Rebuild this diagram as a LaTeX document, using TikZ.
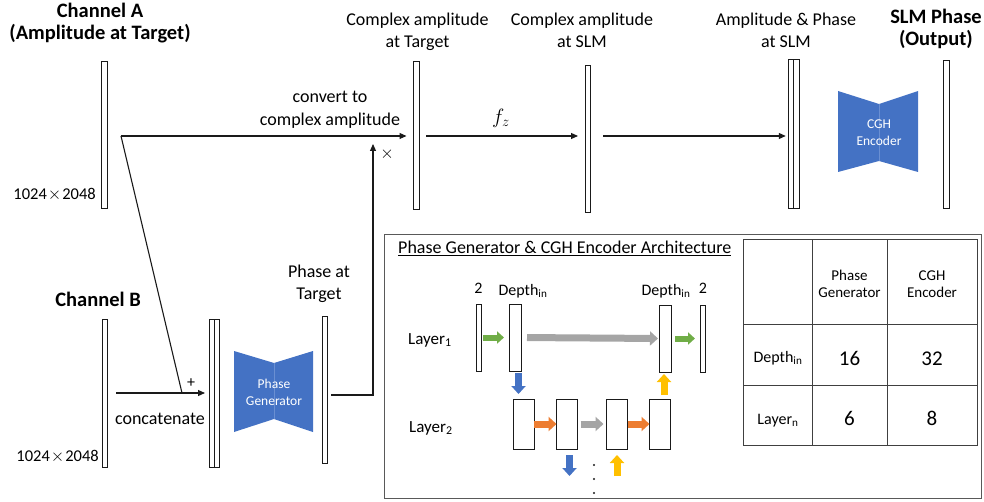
\documentclass[tikz,border=0pt]{standalone}
\usepackage{fontspec}
\setmainfont{Carlito}
\usetikzlibrary{arrows.meta}

\definecolor{offblue}{HTML}{4472C4}
\definecolor{seamblue}{HTML}{6A8FD2}
\definecolor{offgreen}{HTML}{70AD47}
\definecolor{offgray}{HTML}{A5A5A5}
\definecolor{offorange}{HTML}{ED7D31}
\definecolor{offgold}{HTML}{FFC000}
\definecolor{framegray}{HTML}{595959}
\definecolor{rulegray}{HTML}{404040}
\definecolor{ink}{HTML}{1A1A1A}

\begin{document}
\begin{tikzpicture}[x=1pt,y=-1pt,
  bar/.style={draw=ink, line width=1pt, fill=white, inner sep=0pt, outer sep=0pt},
  arr/.style={draw=ink, line width=1.1pt, -{Triangle[length=7pt,width=6pt]}},
  plain/.style={draw=ink, line width=1.1pt},
  lbl/.style={font=\fontsize{18}{22}\selectfont, inner sep=0pt, anchor=base},
  ttl/.style={font=\bfseries\fontsize{20.5}{24}\selectfont, inner sep=0pt, anchor=base},
  dim/.style={font=\fontsize{16.5}{18}\selectfont, inner sep=0pt, anchor=base east},
  sym/.style={font=\fontsize{16}{18}\selectfont, inner sep=0pt},
  wlbl/.style={font=\fontsize{13.5}{16}\selectfont, text=white, inner sep=0pt, anchor=base},
  small/.style={font=\fontsize{16}{18}\selectfont, inner sep=0pt, anchor=base},
  cell/.style={font=\fontsize{15}{18}\selectfont, inner sep=0pt, anchor=base},
  num/.style={font=\fontsize{21}{24}\selectfont, inner sep=0pt, anchor=base},
  blk/.style={line width=7pt, draw=#1, -{Triangle[length=8pt,width=14pt]}},
  blkthin/.style={line width=6pt, draw=#1, -{Triangle[length=7pt,width=12pt]}},
]
\useasboundingbox (0,0) rectangle (984,502);

% ---------- feature maps (upper row) ----------
\node[bar, minimum width=6pt, minimum height=147pt] (chA) at (104.5,135.5) {};
\node[bar, minimum width=6pt, minimum height=148pt] (tgt) at (416.5,136) {};
\node[bar, minimum width=5pt, minimum height=147pt] (slm) at (588,139.5) {};
\node[bar, minimum width=5.5pt, minimum height=149pt] (ap1) at (791,134.5) {};
\node[bar, minimum width=5.5pt, minimum height=149pt] (ap2) at (796.5,134.5) {};
\node[bar, minimum width=6pt, minimum height=148pt] (out) at (946,135) {};

% ---------- feature maps (lower row) ----------
\node[bar, minimum width=5pt, minimum height=148pt] (chB) at (105,393) {};
\node[bar, minimum width=5pt, minimum height=148pt] (cat1) at (211.5,393) {};
\node[bar, minimum width=5pt, minimum height=148pt] (cat2) at (216.5,393) {};
\node[bar, minimum width=5pt, minimum height=147pt] (pht) at (324.5,389.5) {};

% ---------- titles and labels ----------
\node[ttl] (tA1) at (100,18) {Channel A};
\node[ttl] (tA2) at (100,40) {(Amplitude at Target)};
\node[ttl] (tB) at (98,306) {Channel B};
\node[ttl] (tO1) at (936,24) {SLM Phase};
\node[ttl] (tO2) at (936,46) {(Output)};

\node[lbl] (lT1) at (417.5,26) {Complex amplitude};
\node[lbl] (lT2) at (417.5,48) {at Target};
\node[lbl] (lS1) at (582,26) {Complex amplitude};
\node[lbl] (lS2) at (582,48) {at SLM};
\node[lbl] (lP1) at (786,26) {Amplitude \& Phase};
\node[lbl] (lP2) at (786,48) {at SLM};
\node[lbl] (lC1) at (330,103) {convert to};
\node[lbl] (lC2) at (330,126) {complex amplitude};
\node[lbl] (lG1) at (319,278) {Phase at};
\node[lbl] (lG2) at (319,300) {Target};
\node[lbl] (lcat) at (160,424) {concatenate};

\node[dim] (dA) at (96,200) {1024\hspace{1pt}$\times$\hspace{1pt}2048};
\node[dim] (dB) at (99,461) {1024\hspace{1pt}$\times$\hspace{1pt}2048};

\node[sym] (plus) at (191,383) {+};
\node[sym] (times) at (387,154) {$\times$};
\node[inner sep=0pt, font=\fontsize{20}{24}\selectfont] (fz) at (501,118) {$f_{z}$};

% ---------- network blocks ----------
\fill[offblue] (234,351) -- (274,363) -- (313,351) -- (313,432) -- (274,419) -- (234,432) -- cycle;
\draw[seamblue, line width=0.5pt] (274,363) -- (274,419);
\node[wlbl] (pg1) at (274,388) {Phase};
\node[wlbl] (pg2) at (274,405) {Generator};

\fill[offblue] (838,91) -- (879,104) -- (918,91) -- (918,172) -- (879,161) -- (838,172) -- cycle;
\draw[seamblue, line width=0.5pt] (879,104) -- (879,161);
\node[wlbl] (cg1) at (879,129) {CGH};
\node[wlbl] (cg2) at (879,146) {Encoder};

% ---------- connectors ----------
\coordinate (jA) at (121,136);
\coordinate (jB) at (182,393);
\coordinate (cB) at (116,393);
\coordinate (pgo) at (331,395);
\coordinate (mul) at (373,144);

\draw[arr, shorten >=7pt] (jA) -- (tgt.west |- jA);
\draw[plain] (jA) -- (jB);
\draw[arr, shorten >=4pt] (cB) -- (cat1.west |- cB);
\draw[arr] (pgo) -| (mul);
\draw[arr, shorten <=6.5pt, shorten >=7.5pt] (tgt.east |- jA) -- (slm.west |- jA);
\draw[arr, shorten <=12.5pt, shorten >=2.5pt] (slm.east |- jA) -- (ap1.west |- jA);

% ---------- architecture panel ----------
\node[draw=framegray, line width=1.3pt, minimum width=597pt, minimum height=264pt,
      inner sep=0pt, anchor=north west] (panel) at (384,234) {};
\node[lbl, anchor=base west] (ptitle) at (398,254)
  {\underline{Phase Generator \& CGH Encoder Architecture}};

\node[bar, minimum width=5pt, minimum height=67pt] (s1) at (478.5,337.5) {};
\node[bar, minimum width=12pt, minimum height=67pt] (d1) at (515,337.5) {};
\node[bar, minimum width=12pt, minimum height=67pt] (d2) at (665,338.5) {};
\node[bar, minimum width=5pt, minimum height=67pt] (s2) at (702.5,338.5) {};

\node[bar, minimum width=21pt, minimum height=50pt] (b1) at (523.5,424) {};
\node[bar, minimum width=21pt, minimum height=50pt] (b2) at (567,424) {};
\node[bar, minimum width=21pt, minimum height=50pt] (b3) at (617,424) {};
\node[bar, minimum width=21pt, minimum height=50pt] (b4) at (660,424) {};

\node[small] (n2a) at (478.5,294) {2};
\node[small] (dpa) at (523,295) {Depth\textsubscript{in}};
\node[small] (dpb) at (666,295) {Depth\textsubscript{in}};
\node[small] (n2b) at (703,294) {2};
\node[small, font=\fontsize{17}{18}\selectfont, anchor=base west] (ly1) at (408,344) {Layer\textsubscript{1}};
\node[small, font=\fontsize{17}{18}\selectfont, anchor=base west] (ly2) at (409,432) {Layer\textsubscript{2}};

\draw[blkthin=offgreen, shorten <=2pt, shorten >=5pt] (s1.east) -- (d1.west);
\draw[blk=offgray, shorten <=6pt, shorten >=1pt] (d1.east) -- (d2.west);
\draw[blkthin=offgreen, shorten <=4pt, shorten >=5pt] (d2.east) -- (s2.west);
\draw[blk=offorange] (b1.east) -- (b2.west);
\draw[blk=offgray, shorten <=3pt, shorten >=3pt] (b2.east) -- (b3.west);
\draw[blk=offorange] (b3.east) -- (b4.west);

\coordinate (dn1a) at (518.5,373);
\coordinate (dn1b) at (518.5,394);
\coordinate (up1a) at (664,395);
\coordinate (up1b) at (664,374);
\coordinate (dn2a) at (569.5,455);
\coordinate (dn2b) at (569.5,476);
\coordinate (up2a) at (617,476);
\coordinate (up2b) at (617,455);
\draw[blk=offblue] (dn1a) -- (dn1b);
\draw[blk=offgold] (up1a) -- (up1b);
\draw[blk=offblue] (dn2a) -- (dn2b);
\draw[blk=offgold] (up2a) -- (up2b);

\fill[ink] (594,465) circle (1.2pt) (594,479) circle (1.2pt) (594,493) circle (1.2pt);

% ---------- parameter table ----------
\draw[rulegray, line width=1pt] (743,240) rectangle (977,445);
\draw[rulegray, line width=1pt] (812,240) -- (812,445) (887,240) -- (887,445)
  (743,324) -- (977,324) (743,385) -- (977,385);
\node[cell] (h1a) at (849.5,280) {Phase};
\node[cell] (h1b) at (849.5,298) {Generator};
\node[cell] (h2a) at (932,280) {CGH};
\node[cell] (h2b) at (932,298) {Encoder};
\node[cell, font=\fontsize{16}{18}\selectfont] (r1) at (778,362) {Depth\textsubscript{in}};
\node[cell, font=\fontsize{16}{18}\selectfont] (r2) at (778,424) {Layer\textsubscript{n}};
\node[num] (v11) at (849.5,365) {16};
\node[num] (v12) at (932,365) {32};
\node[num] (v21) at (849.5,425) {6};
\node[num] (v22) at (932,425) {8};
\end{tikzpicture}
\end{document}
